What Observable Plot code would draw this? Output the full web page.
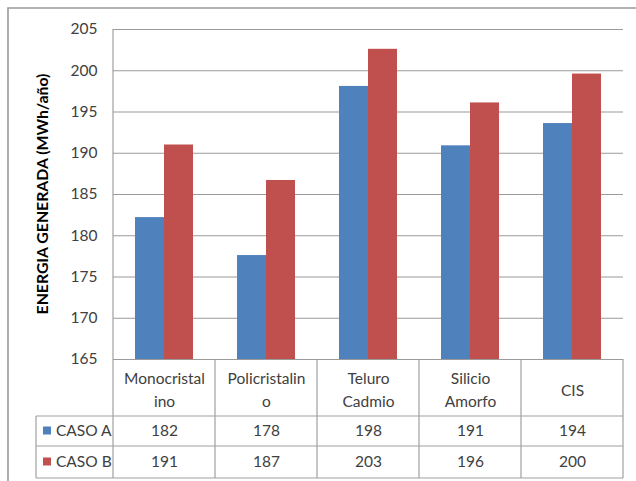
<!DOCTYPE html>
<html>
<head>
<meta charset="utf-8">
<script src="https://cdn.jsdelivr.net/npm/d3@7"></script>
<script src="https://cdn.jsdelivr.net/npm/@observablehq/plot@0.6"></script>
<style>
  html, body { margin: 0; padding: 0; background: #fff; }
  #chart { position: relative; width: 636px; height: 481px; overflow: hidden; }
  #chart svg { display: block; }
</style>
</head>
<body>
<div id="chart"></div>
<script>
// ---- data ----
const categories = ["Monocristalino", "Policristalino", "Teluro Cadmio", "Silicio Amorfo", "CIS"];
const categoryLabels = ["Monocristal\nino", "Policristalin\no", "Teluro\nCadmio", "Silicio\nAmorfo", "CIS"];
const series = ["CASO A", "CASO B"];
const casoA = [182.2, 177.6, 198.1, 190.9, 193.6];
const casoB = [191.0, 186.7, 202.6, 196.1, 199.6];
const tableA = [182, 178, 198, 191, 194];
const tableB = [191, 187, 203, 196, 200];
const yTicks = [165, 170, 175, 180, 185, 190, 195, 200, 205];
const yTitle = "ENERGIA GENERADA (MWh/año)";
const colors = ["#4F81BD", "#C0504D"];

const bars = [];
categories.forEach((c, i) => {
  bars.push({cat: c, series: series[0], value: casoA[i], shown: tableA[i]});
  bars.push({cat: c, series: series[1], value: casoB[i], shown: tableB[i]});
});
const labelOf = Object.fromEntries(categories.map((c, i) => [c, categoryLabels[i]]));

const FONT = "Lato, 'Open Sans', sans-serif";
const W = 636, H = 481;
const chart = Plot.plot({
  width: W, height: H,
  marginLeft: 111, marginRight: 12, marginTop: 29, marginBottom: 122,
  style: {fontFamily: FONT, fontSize: "15.5px", color: "#404040", background: "#fff"},
  fx: {domain: categories, padding: 0, axis: null},
  x: {domain: series, paddingInner: 0, paddingOuter: 0.74, axis: null},
  y: {domain: [yTicks[0], yTicks[yTicks.length - 1]], ticks: yTicks, tickSize: 0, tickPadding: 16, label: null},
  color: {domain: series, range: colors},
  marks: [
    Plot.ruleY(yTicks, {stroke: "#9a9a9a", strokeWidth: 1.2}),
    Plot.barY(bars, {fx: "cat", x: "series", y1: () => yTicks[0], y2: "value", fill: "series"}),
    Plot.text(categories, {fx: d => d, text: d => labelOf[d], frameAnchor: "bottom", dy: 29,
      lineAnchor: "middle", lineHeight: 1.47, fill: "#404040", fontSize: 15.5}),
    Plot.text(bars.filter(d => d.series === series[0]), {fx: "cat", text: "shown", frameAnchor: "bottom", dy: 72,
      lineAnchor: "middle", fill: "#404040", fontSize: 15.5}),
    Plot.text(bars.filter(d => d.series === series[1]), {fx: "cat", text: "shown", frameAnchor: "bottom", dy: 103,
      lineAnchor: "middle", fill: "#404040", fontSize: 15.5})
  ]
});
document.getElementById("chart").appendChild(chart);

// ---- data table grid, legend and axis title, positioned from Plot's scales ----
const fx = chart.scale("fx");
const ys = chart.scale("y");
const bw = fx.bandwidth;
const x0 = fx.apply(categories[0]);
const x1 = fx.apply(categories[categories.length - 1]) + bw;
const yTop = ys.apply(yTicks[yTicks.length - 1]);
const yBase = ys.apply(yTicks[0]);
const rowHead = yBase + 57, rowA = yBase + 87, rowB = yBase + 119;
const legendLeft = 36;
const svg = d3.select(chart);
const g = svg.append("g").attr("stroke", "#a0a0a0").attr("stroke-width", 1.2).attr("fill", "none");
// outer chart border
g.append("path").attr("d", `M8,${H}V8H${W}`).attr("stroke", "#9a9a9a").attr("stroke-width", 1.6);
// y axis line
g.append("line").attr("x1", x0).attr("x2", x0).attr("y1", yTop).attr("y2", rowB);
// category column dividers
categories.forEach(c => {
  const xe = fx.apply(c) + bw;
  g.append("line").attr("x1", xe).attr("x2", xe).attr("y1", yBase).attr("y2", rowB);
});
// horizontal rows
[rowHead, rowA, rowB].forEach(yy => {
  g.append("line").attr("x1", legendLeft).attr("x2", x1).attr("y1", yy).attr("y2", yy);
});
g.append("line").attr("x1", legendLeft).attr("x2", legendLeft).attr("y1", rowHead).attr("y2", rowB);
// legend keys
[[rowHead, rowA], [rowA, rowB]].forEach(([a, b], i) => {
  const cy = (a + b) / 2;
  svg.append("rect").attr("x", 43).attr("y", cy - 4.5).attr("width", 8).attr("height", 8).attr("fill", colors[i]);
  svg.append("text").attr("x", 56).attr("y", cy).attr("dy", "0.35em").attr("text-anchor", "start")
    .attr("font-family", FONT).attr("font-size", 15.5).attr("fill", "#404040")
    .text(series[i]);
});
// y axis title
svg.append("text")
  .attr("transform", `translate(42,${(yTop + yBase) / 2}) rotate(-90)`)
  .attr("text-anchor", "middle").attr("dy", "0.35em")
  .attr("font-family", FONT).attr("font-size", 15.8).attr("font-weight", "bold").attr("fill", "#000")
  .text(yTitle);
</script>
</body>
</html>
